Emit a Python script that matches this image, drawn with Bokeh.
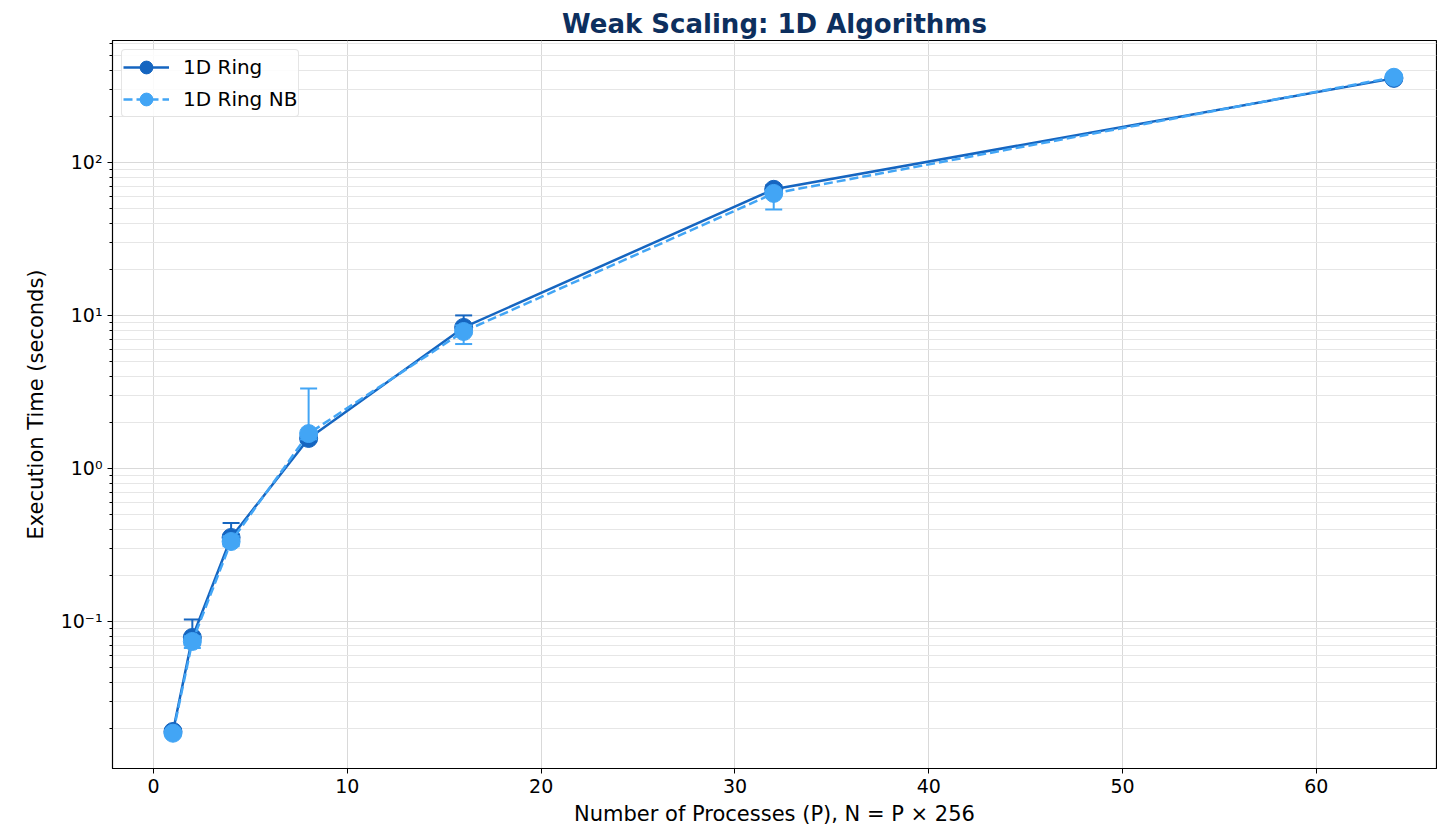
from bokeh.plotting import figure
from bokeh.models import Range1d, FixedTicker, Legend, LegendItem
from bokeh.embed import file_html
from bokeh.resources import INLINE

# Weak-scaling measurements: process counts and execution times (seconds)
procs = [1, 2, 4, 8, 16, 32, 64]

ring_time = [0.0191, 0.0786, 0.354, 1.57, 8.35, 66.7, 354.0]
ring_lo = [0.0185, 0.070, 0.320, 1.50, 7.60, 62.0, 345.0]
ring_hi = [0.0197, 0.103, 0.440, 1.65, 10.0, 71.0, 362.0]

ringnb_time = [0.0186, 0.074, 0.333, 1.69, 7.85, 62.7, 360.0]
ringnb_lo = [0.0181, 0.067, 0.310, 1.55, 6.50, 49.3, 352.0]
ringnb_hi = [0.0191, 0.080, 0.360, 3.33, 8.60, 66.0, 368.0]

x_ticks = [0, 10, 20, 30, 40, 50, 60]
y_major = [0.1, 1, 10, 100]
y_minor = [m * 10.0 ** e for e in range(-2, 3) for m in range(2, 10)]
y_labels = {0.1: "10\u207b\u00b9", 1: "10\u2070", 10: "10\u00b9", 100: "10\u00b2"}

FONT = "DejaVu Sans"
DARK = "#1565C0"
LIGHT = "#42A5F5"

p = figure(
    width=1437, height=828,
    frame_width=1324, frame_height=728,
    y_axis_type="log",
    x_range=Range1d(-2.12, 66.2),
    y_range=Range1d(0.01094, 626),
    output_backend="svg",
    toolbar_location=None,
    min_border_left=112, min_border_right=1,
    min_border_top=40, min_border_bottom=60,
    background_fill_color="white",
    border_fill_color="white",
)

p.title.text = "Weak Scaling: 1D Algorithms"
p.title.align = "center"
p.title.text_font = FONT
p.title.text_font_style = "bold"
p.title.text_font_size = "26px"
p.title.text_color = "#0D2F5E"
p.title.offset = 0
p.title.standoff = 4

p.outline_line_color = "black"
p.outline_line_width = 1.2

# axes
p.xaxis.ticker = FixedTicker(ticks=x_ticks)
p.yaxis.ticker = FixedTicker(ticks=y_major, minor_ticks=y_minor)
p.yaxis.major_label_overrides = y_labels
p.xaxis.axis_label = "Number of Processes (P), N = P \u00d7 256"
p.yaxis.axis_label = "Execution Time (seconds)"
for ax in (p.xaxis[0], p.yaxis[0]):
    ax.axis_label_text_font = FONT
    ax.axis_label_text_font_size = "21px"
    ax.axis_label_text_font_style = "normal"
    ax.axis_label_text_color = "black"
    ax.major_label_text_font = FONT
    ax.major_label_text_font_size = "19px"
    ax.major_label_text_color = "black"
    ax.axis_line_color = "black"
    ax.major_tick_line_color = "black"
    ax.minor_tick_line_color = "black"
    ax.major_tick_out = 5
    ax.major_tick_in = 0
    ax.minor_tick_out = 3
    ax.minor_tick_in = 0
p.xaxis.minor_tick_line_color = None
p.xaxis.axis_label_standoff = 6
p.yaxis.axis_label_standoff = 10

# grid: major and minor lines
p.xgrid.grid_line_color = "#d9d9d9"
p.xgrid.grid_line_width = 1
p.ygrid.grid_line_color = "#d9d9d9"
p.ygrid.grid_line_width = 1
p.ygrid.minor_grid_line_color = "#e6e6e6"
p.ygrid.minor_grid_line_width = 1


def series(times, lo, hi, color, dash):
    line = p.line(procs, times, line_color=color, line_width=2.5, line_dash=dash)
    p.segment(procs, lo, procs, hi, line_color=color, line_width=2)
    p.scatter(procs, hi, marker="dash", size=17, line_color=color, line_width=2)
    p.scatter(procs, lo, marker="dash", size=17, line_color=color, line_width=2)
    dots = p.scatter(procs, times, marker="circle", size=18,
                     fill_color=color, line_color=color)
    return line, dots


r_line, r_dots = series(ring_time, ring_lo, ring_hi, DARK, "solid")
n_line, n_dots = series(ringnb_time, ringnb_lo, ringnb_hi, LIGHT, "9 4")

legend = Legend(
    items=[
        LegendItem(label="1D Ring", renderers=[r_line, r_dots]),
        LegendItem(label="1D Ring NB", renderers=[n_line, n_dots]),
    ],
    location="top_left",
    label_text_font=FONT,
    label_text_font_size="20px",
    label_text_color="black",
    border_line_color="#cccccc",
    border_line_width=1,
    border_radius=4,
    background_fill_alpha=0.85,
    glyph_width=46,
    glyph_height=32,
    label_standoff=14,
    padding=1,
    spacing=-10,
    margin=9,
)
p.add_layout(legend)

open("out.html", "w").write(file_html(p, INLINE))
